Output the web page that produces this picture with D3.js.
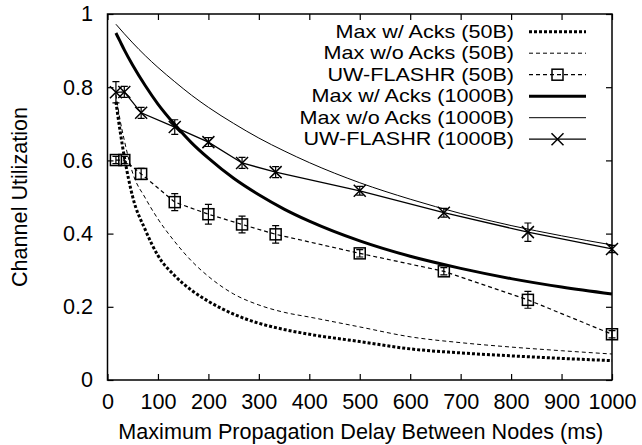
<!DOCTYPE html>
<html><head><meta charset="utf-8">
<script src="https://cdn.jsdelivr.net/npm/d3@7"></script>
<style>
html,body{margin:0;padding:0;background:#fff;}
svg{display:block;}
text{font-family:"Liberation Sans",Arial,sans-serif;}
</style></head>
<body>
<svg id="chart" width="642" height="445"></svg>
<script>
// ---- data ----
const delays = [16.7, 33.3, 66.7, 133.3, 200, 266.7, 333.3, 500, 666.7, 833.3, 1000];
const flashr50 = [0.601, 0.601, 0.563, 0.486, 0.453, 0.425, 0.398, 0.346, 0.297, 0.219, 0.125];
const flashr50Err = [0.01, 0.01, 0.015, 0.023, 0.027, 0.023, 0.024, 0.01, 0.01, 0.023, 0.01];
const flashr1000 = [0.786, 0.787, 0.730, 0.691, 0.650, 0.593, 0.568, 0.517, 0.457, 0.404, 0.358];
const flashr1000Err = [0.029, 0.015, 0.015, 0.02, 0.012, 0.015, 0.015, 0.012, 0.012, 0.025, 0.01];

const curveDelays = [16.7, 25, 33.3, 50, 75, 100, 133.3, 166.7, 200, 250, 300, 350, 400, 500, 600, 700, 800, 900, 1000];
const maxAcks50 = [0.76, 0.68, 0.61, 0.50, 0.41, 0.34, 0.285, 0.245, 0.215, 0.18, 0.155, 0.138, 0.125, 0.105, 0.085, 0.074, 0.066, 0.059, 0.053];
const maxNoAcks50 = [0.78, 0.71, 0.655, 0.565, 0.497, 0.44, 0.378, 0.325, 0.283, 0.235, 0.205, 0.185, 0.172, 0.145, 0.118, 0.102, 0.09, 0.08, 0.071];
const maxAcks1000 = [0.948, 0.925, 0.902, 0.860, 0.804, 0.754, 0.698, 0.648, 0.606, 0.551, 0.506, 0.467, 0.434, 0.380, 0.338, 0.305, 0.277, 0.254, 0.235];
const maxNoAcks1000 = [0.972, 0.959, 0.946, 0.921, 0.886, 0.854, 0.815, 0.778, 0.745, 0.701, 0.661, 0.626, 0.594, 0.539, 0.494, 0.455, 0.422, 0.394, 0.369];

const xTicks = [0, 100, 200, 300, 400, 500, 600, 700, 800, 900, 1000];
const yTicks = [0, 0.2, 0.4, 0.6, 0.8, 1];
const legendLabels = ["Max w/ Acks (50B)", "Max w/o Acks (50B)", "UW-FLASHR (50B)",
                      "Max w/ Acks (1000B)", "Max w/o Acks (1000B)", "UW-FLASHR (1000B)"];
const xTitle = "Maximum Propagation Delay Between Nodes (ms)";
const yTitle = "Channel Utilization";

// ---- layout ----
const L = 107.5, R = 612, T = 14, B = 380;
const FS = 21.6;
const LFS = 18.6;
const svg = d3.select("#chart");
const x = d3.scaleLinear().domain([0, 1000]).range([L, R]);
const y = d3.scaleLinear().domain([0, 1]).range([B, T]);

const styles = [
  {w: 3, dash: "3,2"},
  {w: 1, dash: "4,3"},
  {w: 1.2, dash: "4,3", marker: "square"},
  {w: 3, dash: null},
  {w: 1, dash: null},
  {w: 1.3, dash: null, marker: "x"}
];

function styleAxis(g) {
  g.select(".domain").remove();
  g.selectAll(".tick line").attr("stroke", "#000").attr("stroke-width", 1.2);
  g.selectAll(".tick text").attr("font-family", '"Liberation Sans",Arial,sans-serif')
    .attr("font-size", FS).attr("fill", "#000");
}

svg.append("g").attr("transform", `translate(0,${B})`)
  .call(d3.axisBottom(x).tickValues(xTicks).tickFormat(d3.format("d")).tickSizeInner(-6).tickSizeOuter(0).tickPadding(13.5))
  .call(styleAxis);
svg.append("g").attr("transform", `translate(0,${T})`)
  .call(d3.axisTop(x).tickValues(xTicks).tickFormat("").tickSizeInner(-6).tickSizeOuter(0))
  .call(styleAxis);
svg.append("g").attr("transform", `translate(${L},0)`)
  .call(d3.axisLeft(y).tickValues(yTicks).tickFormat(d => d === 0 || d === 1 ? d3.format("d")(d) : d3.format(".1f")(d)).tickSizeInner(-6).tickSizeOuter(0).tickPadding(14.5))
  .call(styleAxis);
svg.append("g").attr("transform", `translate(${R},0)`)
  .call(d3.axisRight(y).tickValues(yTicks).tickFormat("").tickSizeInner(-6).tickSizeOuter(0))
  .call(styleAxis);

// ---- curves ----
const lineGen = d3.line().x(d => x(d[0])).y(d => y(d[1])).curve(d3.curveMonotoneX);
const linearGen = d3.line().x(d => x(d[0])).y(d => y(d[1]));
const plot = svg.append("g");

function drawPath(pts, st, gen) {
  plot.append("path").attr("d", gen(pts)).attr("fill", "none").attr("stroke", "#000")
    .attr("stroke-width", st.w).attr("stroke-dasharray", st.dash);
}
function drawMarker(g, type, cx, cy) {
  if (type === "square") {
    g.append("rect").attr("x", cx - 5.5).attr("y", cy - 5.5).attr("width", 11).attr("height", 11)
      .attr("fill", "none").attr("stroke", "#000").attr("stroke-width", 1.5);
  } else {
    g.append("path").attr("d", `M${cx-6},${cy-6}L${cx+6},${cy+6}M${cx-6},${cy+6}L${cx+6},${cy-6}`)
      .attr("stroke", "#000").attr("stroke-width", 1.5).attr("fill", "none");
  }
}
function drawErr(vals, errs) {
  delays.forEach((d, i) => {
    const cx = x(d), y1 = y(vals[i] + errs[i]), y2 = y(vals[i] - errs[i]);
    plot.append("path").attr("d", `M${cx},${y1}L${cx},${y2}M${cx-3.5},${y1}L${cx+3.5},${y1}M${cx-3.5},${y2}L${cx+3.5},${y2}`)
      .attr("stroke", "#000").attr("stroke-width", 1.2).attr("fill", "none");
  });
}

drawPath(curveDelays.map((d, i) => [d, maxAcks50[i]]), styles[0], lineGen);
drawPath(curveDelays.map((d, i) => [d, maxNoAcks50[i]]), styles[1], lineGen);
drawPath(delays.map((d, i) => [d, flashr50[i]]), styles[2], linearGen);
drawErr(flashr50, flashr50Err);
delays.forEach((d, i) => drawMarker(plot, "square", x(d), y(flashr50[i])));
drawPath(curveDelays.map((d, i) => [d, maxAcks1000[i]]), styles[3], lineGen);
drawPath(curveDelays.map((d, i) => [d, maxNoAcks1000[i]]), styles[4], lineGen);
drawPath(delays.map((d, i) => [d, flashr1000[i]]), styles[5], linearGen);
drawErr(flashr1000, flashr1000Err);
delays.forEach((d, i) => drawMarker(plot, "x", x(d), y(flashr1000[i])));

// ---- frame ----
svg.append("rect").attr("x", L).attr("y", T).attr("width", R - L).attr("height", B - T)
  .attr("fill", "none").attr("stroke", "#000").attr("stroke-width", 1.5);

// ---- legend ----
const leg = svg.append("g");
legendLabels.forEach((lab, i) => {
  const ry = 31.7 + i * 21.5;
  leg.append("text").attr("transform", `translate(514,${ry + 5.8}) scale(1.16,1)`)
    .attr("text-anchor", "end").attr("font-size", LFS).attr("fill", "#000").text(lab);
  const st = styles[i];
  leg.append("line").attr("x1", 529).attr("x2", 586).attr("y1", ry).attr("y2", ry)
    .attr("stroke", "#000").attr("stroke-width", st.w).attr("stroke-dasharray", st.dash);
  if (st.marker) drawMarker(leg, st.marker, 557.5, ry);
});

// ---- titles ----
svg.append("text").attr("x", (L + R) / 2 + 1).attr("y", 439).attr("text-anchor", "middle")
  .attr("font-size", FS).attr("fill", "#000").text(xTitle);
svg.append("text").attr("transform", `translate(26.5,${(T + B) / 2}) rotate(-90)`).attr("text-anchor", "middle")
  .attr("font-size", FS).attr("fill", "#000").text(yTitle);
</script>
</body></html>
